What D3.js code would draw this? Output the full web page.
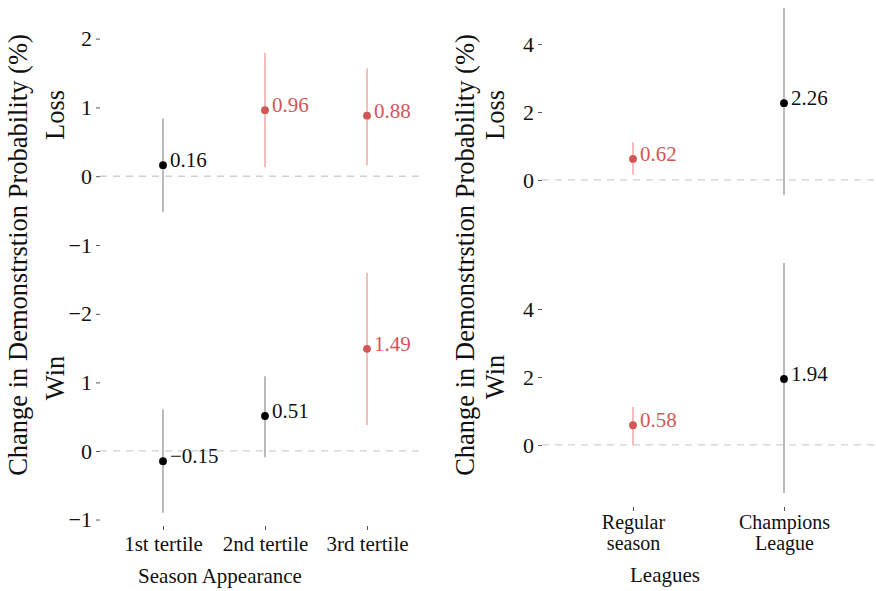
<!DOCTYPE html>
<html>
<head>
<meta charset="utf-8">
<script src="https://cdn.jsdelivr.net/npm/d3@7"></script>
</head>
<body style="margin:0; background:#fff;">
<div id="chart"></div>
<script>
// data
const tertiles = ["1st tertile", "2nd tertile", "3rd tertile"];
const lossTertEst = [0.16, 0.96, 0.88];
const lossTertLo = [-0.52, 0.13, 0.16];
const lossTertHi = [0.84, 1.79, 1.57];
const lossTertSig = [false, true, true];
const winTertEst = [-0.15, 0.51, 1.49];
const winTertLo = [-0.90, -0.09, 0.38];
const winTertHi = [0.61, 1.09, 2.60];
const winTertSig = [false, false, true];

const leagues = ["Regular season", "Champions League"];
const lossLeagEst = [0.62, 2.26];
const lossLeagLo = [0.15, -0.44];
const lossLeagHi = [1.12, 5.06];
const lossLeagSig = [true, false];
const winLeagEst = [0.58, 1.94];
const winLeagLo = [0.00, -1.41];
const winLeagHi = [1.12, 5.35];
const winLeagSig = [true, false];

// tick values and the labels as printed
const tertLossTicks = [2, 1, 0, -1];
const tertLossLabels = ["2", "1", "0", "\u22121"];
const tertWinTicks = [2, 1, 0, -1];
const tertWinLabels = ["\u22122", "1", "0", "\u22121"];
const leagTicks = [4, 2, 0];
const leagTickLabels = ["4", "2", "0"];

const yTitle = "Change in Demonstrstion Probability (%)";

const FONT = "Liberation Serif";
const red = "#d35656", redBar = "#eeaaaa", grayBar = "#a3a3a3";

const svg = d3.select("#chart").append("svg")
    .attr("width", 876)
    .attr("height", 591)
    .attr("font-family", FONT);

const fmt = v => (v < 0 ? "\u2212" : "") + Math.abs(v).toFixed(2);

function rows(cats, est, lo, hi, sig) {
    return cats.map((c, i) => ({ cat: c, est: est[i], lo: lo[i], hi: hi[i], sig: sig[i] }));
}

// one panel: y axis, zero line, error bars, points, labels
function panel(x, y, axisX, lineEnd, ticks, labels, data) {
    const g = svg.append("g");

    g.append("g")
        .attr("transform", `translate(${axisX},0)`)
        .call(d3.axisLeft(y).tickValues(ticks).tickFormat((d, i) => labels[i]).tickSize(4).tickPadding(4))
        .attr("font-family", FONT)
        .attr("font-size", 22)
        .call(a => a.select(".domain").remove())
        .call(a => a.selectAll("line").attr("stroke", "#555"))
        .call(a => a.selectAll("text").attr("fill", "#111"));

    g.append("line")
        .attr("x1", axisX).attr("x2", lineEnd)
        .attr("y1", y(0)).attr("y2", y(0))
        .attr("stroke", "#cfcfcf")
        .attr("stroke-width", 1.3)
        .attr("stroke-dasharray", "7,6");

    g.selectAll(".err").data(data).enter().append("line")
        .attr("x1", d => x(d.cat)).attr("x2", d => x(d.cat))
        .attr("y1", d => y(d.lo)).attr("y2", d => y(d.hi))
        .attr("stroke", d => d.sig ? redBar : grayBar)
        .attr("stroke-width", 1.5);

    g.selectAll(".pt").data(data).enter().append("circle")
        .attr("cx", d => x(d.cat)).attr("cy", d => y(d.est))
        .attr("r", 3.9)
        .attr("fill", d => d.sig ? red : "#000");

    g.selectAll(".lbl").data(data).enter().append("text")
        .attr("x", d => x(d.cat) + 7)
        .attr("y", d => y(d.est) + 2)
        .attr("font-size", 21)
        .attr("fill", d => d.sig ? red : "#111")
        .text(d => fmt(d.est));
}

function vlabel(txt, x, y) {
    svg.append("text")
        .attr("transform", `translate(${x},${y}) rotate(-90)`)
        .attr("text-anchor", "middle")
        .attr("font-size", 26.5)
        .attr("fill", "#111")
        .text(txt);
}

function hlabel(txt, x, y) {
    svg.append("text")
        .attr("x", x).attr("y", y)
        .attr("text-anchor", "middle")
        .attr("font-size", 21)
        .attr("fill", "#111")
        .text(txt);
}

// ---- left: season appearance
const xT = d3.scalePoint().domain(tertiles).range([163, 367]);
const yTL = d3.scaleLinear().domain([-1.29, 2.125]).range([265, 30]);
const yTW = d3.scaleLinear().domain([-1.08, 2.64]).range([525, 270]);

panel(xT, yTL, 100, 423, tertLossTicks, tertLossLabels,
    rows(tertiles, lossTertEst, lossTertLo, lossTertHi, lossTertSig));
panel(xT, yTW, 100, 423, tertWinTicks, tertWinLabels,
    rows(tertiles, winTertEst, winTertLo, winTertHi, winTertSig));

svg.append("g")
    .attr("transform", "translate(0,526)")
    .call(d3.axisBottom(xT).tickSize(4).tickPadding(6))
    .attr("font-family", FONT)
    .attr("font-size", 21)
    .call(a => a.select(".domain").remove())
    .call(a => a.selectAll("line").attr("stroke", "#555"))
    .call(a => a.selectAll("text").attr("fill", "#111"));

hlabel("Season Appearance", 220, 583);

vlabel(yTitle, 27, 255);
vlabel("Loss", 64, 115);
vlabel("Win", 64, 378);

// ---- right: leagues
const xL = d3.scalePoint().domain(leagues).range([633, 784]);
const yLL = d3.scaleLinear().domain([-0.59, 5.15]).range([200, 5]);
const yLW = d3.scaleLinear().domain([-1.56, 5.5]).range([498, 258]);

panel(xL, yLL, 542, 876, leagTicks, leagTickLabels,
    rows(leagues, lossLeagEst, lossLeagLo, lossLeagHi, lossLeagSig));
panel(xL, yLW, 542, 876, leagTicks, leagTickLabels,
    rows(leagues, winLeagEst, winLeagLo, winLeagHi, winLeagSig));

const xAxL = svg.append("g")
    .attr("transform", "translate(0,507)")
    .call(d3.axisBottom(xL).tickSize(4).tickFormat(""))
    .attr("font-family", FONT)
    .call(a => a.select(".domain").remove())
    .call(a => a.selectAll("line").attr("stroke", "#555"));

// two-line tick labels, one text per line
xAxL.selectAll(".tick").each(function (d) {
    d3.select(this).selectAll(".ln")
        .data(d.split(" "))
        .enter().append("text")
        .attr("class", "ln")
        .attr("text-anchor", "middle")
        .attr("font-family", FONT)
        .attr("font-size", 20)
        .attr("fill", "#111")
        .attr("y", (t, i) => 22 + i * 21)
        .text(t => t);
});

hlabel("Leagues", 665, 582);

vlabel(yTitle, 474, 255);
vlabel("Loss", 504, 115);
vlabel("Win", 504, 377);
</script>
</body>
</html>
